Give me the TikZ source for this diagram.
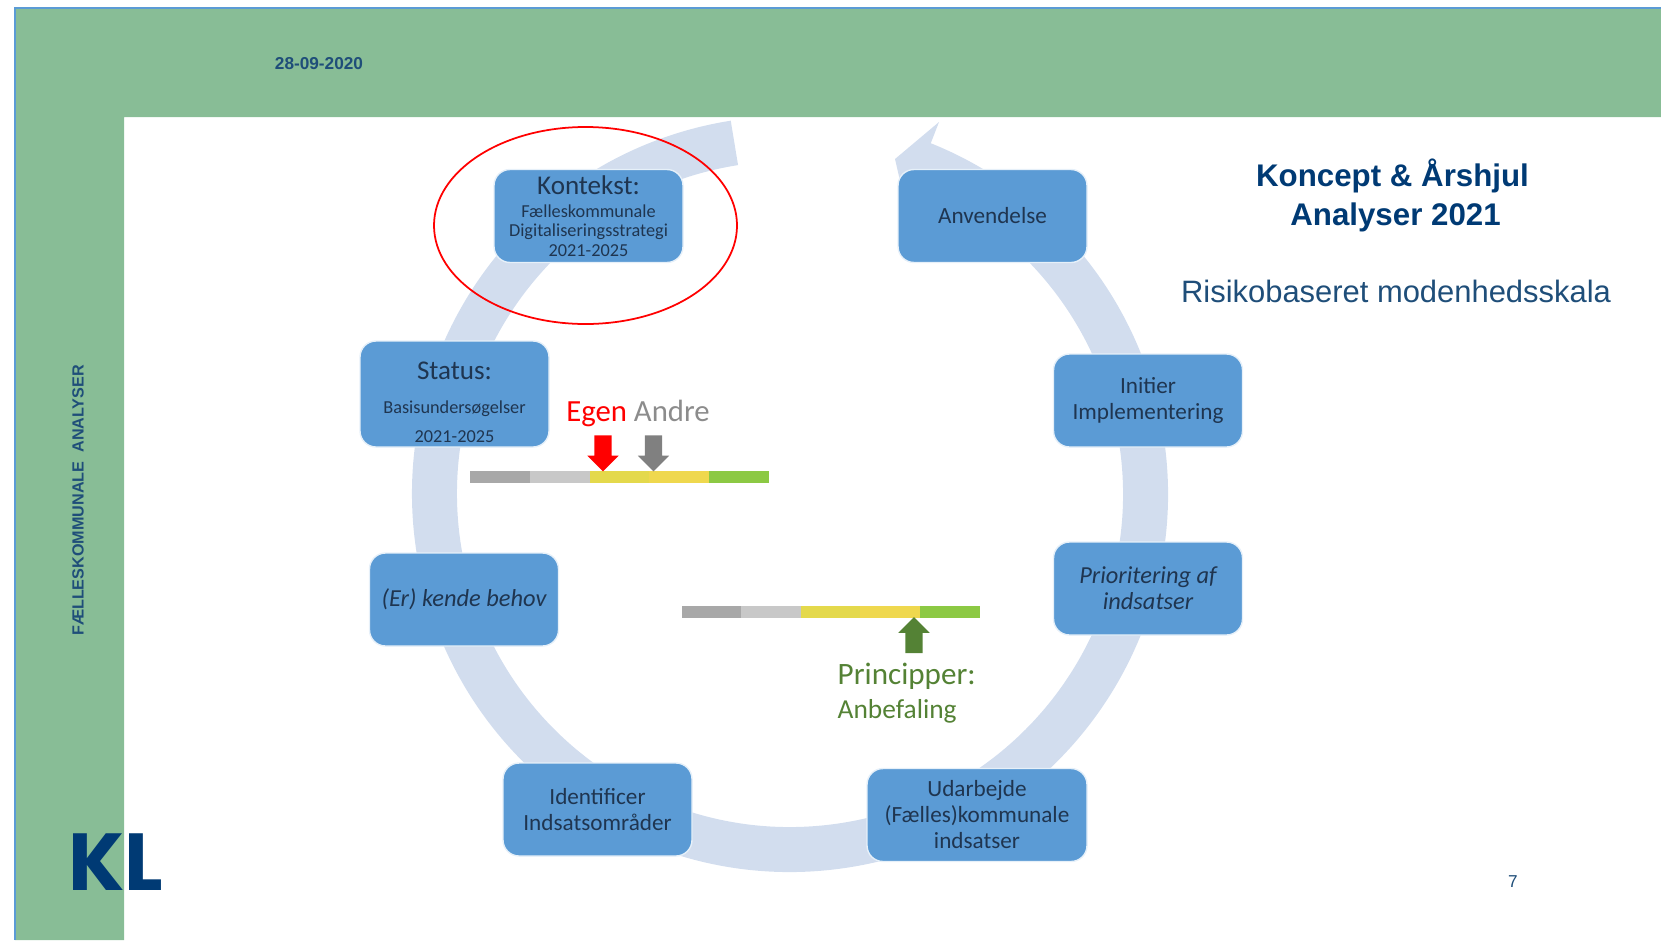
\documentclass[tikz,border=0pt]{standalone}
\usepackage{fontspec}
\setmainfont{Carlito}
\newfontfamily\arialfont{Liberation Sans}
\newfontfamily\logofont{Poppins}
\usetikzlibrary{shapes, shapes.geometric, shapes.arrows}
\definecolor{MyGreen}{HTML}{88BD96}
\definecolor{MyBlue}{HTML}{5B9BD5}
\definecolor{MyRing}{HTML}{D2DDEE}
\definecolor{MyText}{HTML}{1F3550}
\definecolor{MyNavy}{HTML}{003A74}
\definecolor{MyTitle}{HTML}{1F4E79}
\definecolor{MyLeaf}{HTML}{548235}
\definecolor{MyGrey}{HTML}{A8A8A8}
\definecolor{MyPale}{HTML}{C8C8C8}
\definecolor{MyLime}{HTML}{E4D94C}
\definecolor{MyGold}{HTML}{EFD84E}
\definecolor{MyLeafbar}{HTML}{8CC944}
\newcommand{\headtxt}{\fontsize{7.7}{9.4}\selectfont}
\newcommand{\smalltxt}{\fontsize{5.2}{5.7}\selectfont}

\begin{document}
\begin{tikzpicture} [
			every node/.style={align=center,inner sep=0pt},
			phase/.style={fill=MyBlue,draw=white!85!MyBlue,line width=0.4pt,rounded corners=1.6mm,text=MyText,minimum width=18.9mm,minimum height=9.3mm,font=\fontsize{6.6}{7.4}\selectfont},
			phaseit/.style={phase,font=\itshape\fontsize{6.95}{7.4}\selectfont},
			barseg/.style={minimum width=6mm,minimum height=1.15mm},
			blockarrow/.style={single arrow,inner sep=0.8mm,minimum width=3mm,minimum height=3.6mm,single arrow head extend=0.7mm},
			ringarc/.style={draw=MyRing,line width=4.5mm},
			slidetxt/.style={text=MyTitle,font=\arialfont\fontsize{8.8}{11}\selectfont}
		]
			\useasboundingbox (0,0) rectangle (16.61,9.40);
			\path[fill=MyGreen] (0.15,0) -- (0.15,9.32) -- (16.61,9.32) -- (16.61,8.23) -- (1.24,8.23) -- (1.24,0) -- cycle;
			\path[draw=MyBlue,line width=0.4pt] (0.15,0) |- (16.61,9.32);
			\node at (3.19,8.765) [text=MyTitle,font=\arialfont\bfseries\fontsize{4.9}{6}\selectfont] (datelabel) {28-09-2020};
			\node at (0.78,4.395) [rotate=90,text=MyTitle,font=\arialfont\bfseries\fontsize{4.6}{6}\selectfont] (sidelabel) {FÆLLESKOMMUNALE\ \ ANALYSER};
			\node at (1.155,0.775) [text=MyNavy,font=\logofont\bfseries\fontsize{23}{23}\selectfont] (logo) {KL};
			\node at (13.925,7.445) [text=MyNavy,font=\arialfont\bfseries\fontsize{8.9}{11.1}\selectfont] (title) {Koncept \& Årshjul\\\hspace*{0.6mm}Analyser 2021};
			\node at (13.96,6.49) [slidetxt] (subtitle) {Risikobaseret modenhedsskala};
			\node at (15.13,0.58) [text=MyTitle,font=\arialfont\fontsize{4.9}{6}\selectfont] (pagenum) {7};
			% ring
			\coordinate (hub) at (7.90,4.46);
			\path[ringarc] (hub) ++(99:3.555) arc[start angle=99,end angle=429.5,radius=3.555];
			\path[fill=MyRing] (9.39,8.18) -- (8.95,7.81) -- (9.06,7.33) -- cycle;
			% boxes
			\node at (5.885,7.24) [phase] (kontekst) {\headtxt Kontekst:\\[-0.85pt]\smalltxt Fælleskommunale\\[-1.8pt]\smalltxt Digitaliseringsstrategi\\[-1.8pt]\smalltxt 2021-2025};
			\node at (9.925,7.24) [phase] (anvendelse) {Anvendelse};
			\node at (11.48,5.395) [phase] (initier) {Initier\\Implementering};
			\node at (11.48,3.515) [phaseit] (prioritering) {Prioritering af\\indsatser};
			\node at (9.77,1.25) [phase,minimum width=22mm] (udarbejde) {Udarbejde\\(Fælles)kommunale\\indsatser};
			\node at (5.975,1.305) [phase] (identificer) {Identificer\\Indsatsområder};
			\node at (4.64,3.405) [phaseit] (behov) {(Er) kende behov};
			\node at (4.545,5.46) [phase,minimum height=10.6mm] (status) {\rule{0pt}{9.7pt}\headtxt Status:\\[2.15pt]\smalltxt Basisundersøgelser\\[0.7pt]\smalltxt 2021-2025};
			\node at (5.855,7.145) [ellipse,draw=red,line width=0.5pt,minimum width=30.3mm,minimum height=19.7mm] (focus) {};
			% top scale
			\node at (5.00,4.63) [barseg,fill=MyGrey] (topa) {};
			\node at (5.60,4.63) [barseg,fill=MyPale] (topb) {};
			\node at (6.195,4.63) [barseg,fill=MyLime] (topc) {};
			\node at (6.79,4.63) [barseg,fill=MyGold] (topd) {};
			\node at (7.39,4.63) [barseg,fill=MyLeafbar] (tope) {};
			\node at (6.38,5.27) [font=\fontsize{8.75}{10}\selectfont] (egenlabel) {\textcolor{red}{Egen} \textcolor{black!45}{Andre}};
			\node at (6.03,4.91) [blockarrow,fill=red,shape border rotate=270] (egenarrow) {};
			\node at (6.535,4.91) [blockarrow,fill=black!50,shape border rotate=270] (andrearrow) {};
			% bottom scale
			\node at (7.115,3.28) [barseg,fill=MyGrey] (lowa) {};
			\node at (7.71,3.28) [barseg,fill=MyPale] (lowb) {};
			\node at (8.31,3.28) [barseg,fill=MyLime] (lowc) {};
			\node at (8.90,3.28) [barseg,fill=MyGold] (lowd) {};
			\node at (9.495,3.28) [barseg,fill=MyLeafbar] (lowe) {};
			\node at (9.14,3.005) [blockarrow,fill=MyLeaf,shape border rotate=90] (leafarrow) {};
			\node[anchor=west] at (8.37,2.64) [text=MyLeaf,font=\fontsize{8.85}{10}\selectfont] (principper) {Principper:};
			\node[anchor=west] at (8.37,2.29) [text=MyLeaf,font=\fontsize{7.8}{9}\selectfont] (anbefaling) {Anbefaling};
		\end{tikzpicture}
\end{document}
